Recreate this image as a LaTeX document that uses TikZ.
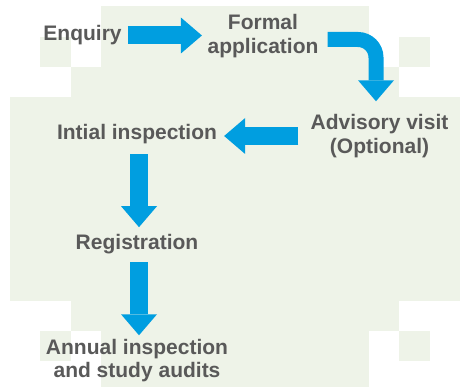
\documentclass[tikz,border=0pt]{standalone}
\usepackage{fontspec}
\setmainfont{Liberation Sans}
\usetikzlibrary{arrows.meta}
\definecolor{bggreen}{RGB}{238,243,232}
\definecolor{flowblue}{RGB}{0,158,224}
\definecolor{txtgray}{RGB}{89,89,89}

\begin{document}
\begin{tikzpicture}[x=1pt,y=-1pt,
  lbl/.style={font=\bfseries\fontsize{21}{23.5}\selectfont,text=txtgray,align=center,inner sep=3pt},
  blk/.style={draw,color=flowblue,line width=18pt,-{Triangle[length=21pt,width=36pt,line width=0pt]}}]
\useasboundingbox (0,0) rectangle (460,387);
\fill[bggreen] (101,6) rectangle (369,387);
\fill[bggreen] (71,67) rectangle (399,331);
\fill[bggreen] (10,97) rectangle (460,301);
\fill[bggreen] (40,37) rectangle (71,67);
\fill[bggreen] (399,37) rectangle (430,67);
\fill[bggreen] (40,331) rectangle (71,361);
\fill[bggreen] (399,331) rectangle (430,361);
\node[lbl] (1) at (82.5,35.5) {Enquiry};
\node[lbl] (2) at (263,36) {Formal\\application};
\node[lbl] (3) at (379.5,136) {Advisory visit\\(Optional)};
\node[lbl] (4) at (137,133.6) {Intial inspection};
\node[lbl] (5) at (137,243.7) {Registration};
\node[lbl] (6) at (137,360.5) {Annual inspection\\and study audits};
\path[blk,shorten <=3pt,shorten >=2.5pt] (1.east) -- (1.east -| 2.west);
\path[blk,line width=15pt,rounded corners=18pt,shorten <=6pt,shorten >=10pt] ([yshift=-3.5pt]2.east) -| ([xshift=-3.5pt]3.north);
\path[blk,shorten <=9pt,shorten >=4pt] (3.west) -- (3.west -| 4.east);
\path[blk,shorten <=7.5pt,shorten >=3.5pt] ([xshift=2pt]4.south) -- ([xshift=2pt]5.north);
\path[blk,shorten <=5.5pt,shorten >=0.5pt] ([xshift=2pt]5.south) -- ([xshift=2pt]6.north);
\end{tikzpicture}
\end{document}
